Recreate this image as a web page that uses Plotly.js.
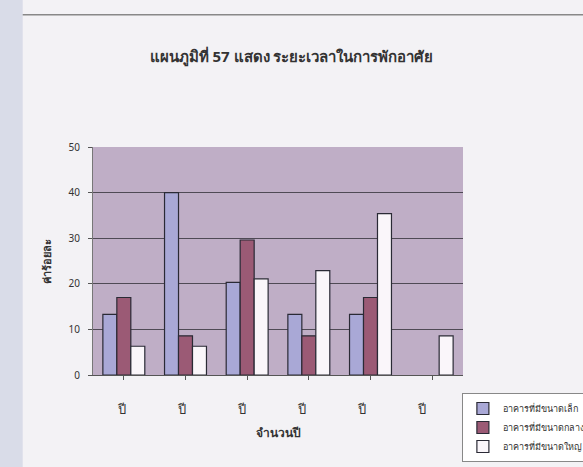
<!DOCTYPE html>
<html><head><meta charset="utf-8">
<script src="https://cdn.plot.ly/plotly-3.0.1.min.js"></script>
<style>html,body{margin:0;padding:0;background:#f3f2f5;}</style>
</head><body>
<div id="chart" style="width:583px;height:467px;"></div>
<script>
const categories = ["ปี ", "ปี  ", "ปี   ", "ปี    ", "ปี     ", "ปี      "];
const seriesNames = ["อาคารที่มีขนาดเล็ก", "อาคารที่มีขนาดกลาง", "อาคารที่มีขนาดใหญ่"];
const seriesA = [13.3, 40.0, 20.3, 13.3, 13.3, 0];
const seriesB = [17.0, 8.6, 29.6, 8.6, 17.0, 0];
const seriesC = [6.3, 6.3, 21.1, 22.9, 35.4, 8.6];
const yTicks = [0, 10, 20, 30, 40, 50];

const fills = ["#a9a8d6", "#9b5a75", "#faf6fa"];
const vals = [seriesA, seriesB, seriesC];
const traces = vals.map((v, i) => ({
  type: "bar", x: categories, y: v, name: seriesNames[i],
  marker: {color: fills[i], line: {color: "#2a2a35", width: v.map(d => d > 0 ? 1.2 : 0)}}
}));

const layout = {
  width: 583, height: 467,
  margin: {l: 93, r: 120, t: 147, b: 92, autoexpand: false},
  paper_bgcolor: "#f3f2f5",
  plot_bgcolor: "#bfaec6",
  font: {family: "Noto Sans, DejaVu Sans, sans-serif", color: "#333"},
  title: {text: "<b>แผนภูมิที่ 57 แสดง ระยะเวลาในการพักอาศัย</b>", font: {size: 15, color: "#333"}, x: 0.5, xanchor: "center", y: 0.878, yanchor: "middle"},
  barmode: "group", bargap: 0.32, bargroupgap: 0,
  xaxis: {
    title: {text: "<b>จำนวนปี</b>", font: {size: 12, color: "#333"}, standoff: 12},
    tickfont: {size: 13, color: "#333"}, showline: true, linecolor: "#555", ticks: "outside", ticklen: 4, tickcolor: "#555",
    ticklabelstandoff: 18
  },
  yaxis: {
    title: {text: "<b>ค่าร้อยละ</b>", font: {size: 11, color: "#333"}, standoff: 14},
    range: [0, 50], tickvals: yTicks, tickfont: {size: 10, color: "#333"},
    showgrid: true, gridcolor: "#4f4a55", gridwidth: 1, zeroline: false,
    showline: true, linecolor: "#777", ticks: "outside", ticklen: 4, tickcolor: "#555",
    ticklabelstandoff: 6
  },
  legend: {x: 0.997, xanchor: "left", y: -0.079, yanchor: "top", bgcolor: "#ffffff", bordercolor: "#888", borderwidth: 1, font: {size: 9, color: "#333"}, tracegroupgap: 0, itemwidth: 30},
  shapes: [
    {type: "rect", xref: "paper", yref: "paper", x0: -0.2514, x1: -0.19, y0: -0.41, y1: 1.65, fillcolor: "#d9dce8", line: {width: 0}, layer: "below"},
    {type: "line", xref: "paper", yref: "paper", x0: -0.19, x1: 1.33, y0: 1.58, y1: 1.58, line: {color: "#888", width: 1.5}}
  ],
  showlegend: true
};
Plotly.newPlot("chart", traces, layout, {displayModeBar: false, staticPlot: true});
</script>
</body></html>
